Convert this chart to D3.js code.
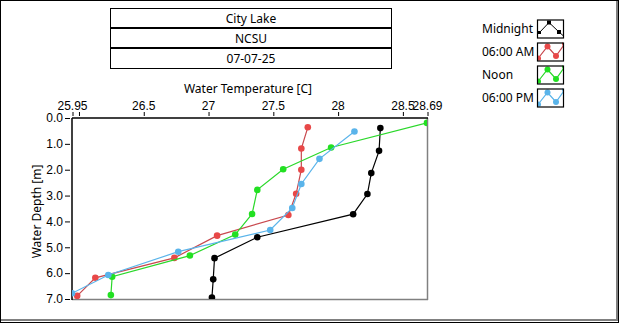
<!DOCTYPE html>
<html>
<head>
<meta charset="utf-8">
<script src="https://cdn.jsdelivr.net/npm/d3@7"></script>
<style>
  html, body { margin: 0; padding: 0; background: #fff; }
  svg { display: block; font-family: "Segoe UI", "Noto Sans", "Open Sans", sans-serif; }
</style>
</head>
<body>
<svg id="chart" width="620" height="324"></svg>
<script>
// Header lines
const headerLines = ["City Lake", "NCSU", "07-07-25"];

// Series names and colours
const seriesNames = ["Midnight", "06:00 AM", "Noon", "06:00 PM"];
const markerColors = ["#000000", "#e84848", "#22e022", "#5ab4ea"];
const lineColors = ["#000000", "#c8484e", "#2ad82a", "#5ab4ea"];

// Temperature profiles [C] vs. depth [m]
const depthMidnight = [0.39, 1.27, 2.13, 2.94, 3.72, 4.61, 5.42, 6.24, 6.94];
const tempMidnight  = [28.33, 28.32, 28.26, 28.23, 28.12, 27.38, 27.05, 27.04, 27.03];

const depthAM = [0.36, 1.18, 2.00, 2.93, 3.75, 4.55, 5.41, 6.18, 6.88];
const tempAM  = [27.77, 27.72, 27.72, 27.68, 27.62, 27.07, 26.74, 26.13, 25.99];

const depthNoon = [0.19, 1.14, 1.98, 2.78, 3.71, 4.51, 5.32, 6.14, 6.85];
const tempNoon  = [28.69, 27.95, 27.58, 27.38, 27.34, 27.21, 26.86, 26.26, 26.25];

const depthPM = [0.52, 1.58, 2.55, 3.48, 4.33, 5.17, 6.07, 6.78];
const tempPM  = [28.13, 27.86, 27.72, 27.65, 27.48, 26.77, 26.23, 25.95];

// Axis ticks
const tempTicks = [25.95, 26, 26.5, 27, 27.5, 28, 28.5, 28.69];
const tempTickLabels = ["25.95", "", "26.5", "27", "27.5", "28", "28.5", "28.69"];
const depthTicks = [0, 1, 2, 3, 4, 5, 6, 7];
const depthTickLabels = ["0.0", "1.0", "2.0", "3.0", "4.0", "5.0", "6.0", "7.0"];

const series = [
  { depth: depthMidnight, temp: tempMidnight },
  { depth: depthAM, temp: tempAM },
  { depth: depthNoon, temp: tempNoon },
  { depth: depthPM, temp: tempPM }
].map((s, i) => ({
  name: seriesNames[i],
  marker: markerColors[i],
  line: lineColors[i],
  points: s.depth.map((d, j) => ({ depth: d, temp: s.temp[j] }))
}));

const svg = d3.select("#chart");
const plot = { left: 72, right: 427, top: 118, bottom: 299 };

const x = d3.scaleLinear().domain([25.95, 28.69]).range([plot.left, plot.right]);
const y = d3.scaleLinear().domain([0, 7]).range([plot.top, plot.bottom]);

// Outer panel frame
svg.append("rect").attr("x", 0.5).attr("y", 0.5).attr("width", 618).attr("height", 322)
  .attr("fill", "#fff").attr("stroke", "#000");
svg.append("line").attr("x1", 617).attr("x2", 617).attr("y1", 1).attr("y2", 321)
  .attr("stroke", "#808080").attr("stroke-width", 2);
svg.append("line").attr("x1", 1).attr("x2", 618).attr("y1", 320).attr("y2", 320)
  .attr("stroke", "#808080").attr("stroke-width", 2);

// Header table
const hdr = svg.append("g");
const hx = 110, hw = 281, rowH = 20, hy = 8;
hdr.append("rect").attr("x", hx + 0.5).attr("y", hy + 0.5).attr("width", hw).attr("height", rowH * 3)
  .attr("fill", "#fff").attr("stroke", "#000");
[1, 2].forEach(k => {
  hdr.append("line").attr("x1", hx).attr("x2", hx + hw + 1)
    .attr("y1", hy + k * rowH).attr("y2", hy + k * rowH)
    .attr("stroke", "#000").attr("stroke-width", 2);
});
hdr.selectAll("text.hdr").data(headerLines).join("text")
  .attr("class", "hdr")
  .attr("x", hx + hw / 2 + 0.5)
  .attr("y", (d, i) => hy + i * rowH + rowH / 2 + 4.5)
  .attr("text-anchor", "middle")
  .attr("font-size", 12)
  .attr("fill", "#000")
  .text(d => d);

// Plot background and frame
svg.append("rect").attr("x", plot.left).attr("y", plot.top)
  .attr("width", plot.right - plot.left).attr("height", plot.bottom - plot.top)
  .attr("fill", "#fff");
svg.append("line").attr("x1", plot.right + 0.5).attr("x2", plot.right + 0.5)
  .attr("y1", plot.top).attr("y2", plot.bottom + 1)
  .attr("stroke", "#808080").attr("stroke-width", 1.5);
svg.append("line").attr("x1", plot.left).attr("x2", plot.right + 1)
  .attr("y1", plot.bottom + 0.5).attr("y2", plot.bottom + 0.5)
  .attr("stroke", "#808080").attr("stroke-width", 1.5);

// Top temperature axis
const xAxis = d3.axisTop(x)
  .tickValues(tempTicks)
  .tickFormat((d, i) => tempTickLabels[i])
  .tickSize(4)
  .tickPadding(2);
const gx = svg.append("g").attr("transform", `translate(0,${plot.top - 2})`).call(xAxis);
gx.select(".domain").remove();
gx.selectAll(".tick line").attr("stroke", "#000").attr("transform", "translate(0.5,0)");
gx.selectAll(".tick text").attr("font-size", 12).attr("fill", "#000")
  .attr("font-family", null);
svg.append("line").attr("x1", plot.left).attr("x2", plot.right + 1)
  .attr("y1", plot.top).attr("y2", plot.top)
  .attr("stroke", "#000").attr("stroke-width", 1.5);

// Left depth axis
const yAxis = d3.axisLeft(y)
  .tickValues(depthTicks)
  .tickFormat((d, i) => depthTickLabels[i])
  .tickSize(5)
  .tickPadding(2);
const gy = svg.append("g").attr("transform", `translate(${plot.left - 2},0)`).call(yAxis);
gy.select(".domain").remove();
gy.selectAll(".tick line").attr("stroke", "#000");
gy.selectAll(".tick text").attr("font-size", 12).attr("fill", "#000")
  .attr("font-family", null);
svg.append("line").attr("x1", plot.left).attr("x2", plot.left)
  .attr("y1", plot.top).attr("y2", plot.bottom + 1)
  .attr("stroke", "#000").attr("stroke-width", 1.5);

// Axis titles
svg.append("text").attr("x", 248).attr("y", 93)
  .attr("text-anchor", "middle").attr("font-size", 12).attr("fill", "#000")
  .text("Water Temperature [C]");
svg.append("text")
  .attr("transform", `translate(41,${(plot.top + plot.bottom) / 2 + 3}) rotate(-90)`)
  .attr("text-anchor", "middle").attr("font-size", 12).attr("fill", "#000")
  .text("Water Depth [m]");

// Series
svg.append("clipPath").attr("id", "plotClip").append("rect")
  .attr("x", plot.left).attr("y", plot.top)
  .attr("width", plot.right - plot.left).attr("height", plot.bottom - plot.top);

const line = d3.line().x(d => x(d.temp)).y(d => y(d.depth));
const gSeries = svg.append("g").attr("clip-path", "url(#plotClip)");
series.forEach(s => {
  const g = gSeries.append("g");
  g.append("path").datum(s.points)
    .attr("d", line)
    .attr("fill", "none")
    .attr("stroke", s.line)
    .attr("stroke-width", 1.2);
  g.selectAll("circle").data(s.points).join("circle")
    .attr("cx", d => x(d.temp))
    .attr("cy", d => y(d.depth))
    .attr("r", 3.3)
    .attr("fill", s.marker);
});

// Legend
const legend = svg.append("g");
const lgX = 482, lgBoxX = 537, lgY0 = 19.5, lgStep = 23;
series.forEach((s, i) => {
  const top = lgY0 + i * lgStep;
  legend.append("text").attr("x", lgX).attr("y", top + 13)
    .attr("font-size", 12).attr("fill", "#000").text(s.name);
  const box = legend.append("g").attr("transform", `translate(${lgBoxX},${top})`);
  const cid = "lgClip" + i;
  box.append("clipPath").attr("id", cid).append("rect")
    .attr("x", 0).attr("y", 0).attr("width", 26).attr("height", 18);
  box.append("rect").attr("x", 0).attr("y", 0).attr("width", 26).attr("height", 18)
    .attr("fill", "#fff");
  const inner = box.append("g").attr("clip-path", `url(#${cid})`);
  if (i === 0) {
    const pts = [[2.5, 13], [12, 3], [22, 12.5], [26, 16]];
    inner.append("path").attr("d", d3.line()(pts))
      .attr("fill", "none").attr("stroke", "#000").attr("stroke-width", 1);
    [[2.5, 13, 3], [12, 3, 4], [22, 12.5, 4]].forEach(p => {
      inner.append("rect").attr("x", p[0] - p[2] / 2).attr("y", p[1] - p[2] / 2)
        .attr("width", p[2]).attr("height", p[2]).attr("fill", "#000");
    });
  } else {
    const pts = [[1, 16], [10.5, 4], [19, 13.5], [28, 1]];
    inner.append("path").attr("d", d3.line()(pts))
      .attr("fill", "none").attr("stroke", s.line).attr("stroke-width", 1.2);
    pts.forEach(p => {
      inner.append("circle").attr("cx", p[0]).attr("cy", p[1]).attr("r", 3)
        .attr("fill", s.marker);
    });
  }
  box.append("rect").attr("x", 0.5).attr("y", 0.5).attr("width", 26).attr("height", 18)
    .attr("fill", "none").attr("stroke", "#000").attr("stroke-width", 1.2);
});
</script>
</body>
</html>
